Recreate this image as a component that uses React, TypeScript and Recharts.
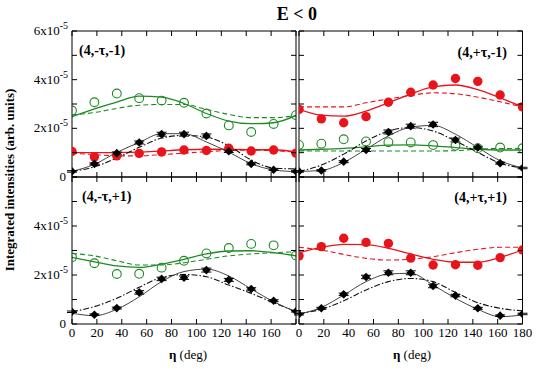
import React from 'react';
import { ComposedChart, XAxis, YAxis, Line, Scatter, ErrorBar } from 'recharts';

const W = 544;
const H = 369;
const FONT = '"Liberation Serif", "Times New Roman", Times, serif';
const RED = '#e8141c';
const GREEN = '#1f8a24';
const BLACK = '#000000';

// Scattering angle eta (deg) where data and curves are read
const ETA = [0, 18, 36, 54, 72, 90, 108, 126, 144, 162, 180];
const X_TICKS = [0, 20, 40, 60, 80, 100, 120, 140, 160, 180];
const Y_TICKS = [0, 1, 2, 3, 4, 5, 6]; // in units of 1e-5
const X_LABELS_LEFT = [0, 20, 40, 60, 80, 100, 120, 140, 160];
const X_LABELS_RIGHT = [0, 20, 40, 60, 80, 100, 120, 140, 160, 180];
const Y_LABELS_TOP = [0, 2, 4, 6];
const Y_LABELS_BOTTOM = [0, 2, 4];

// Panel (4,-τ,-1)
const A_RED = [1.05, 0.83, 0.87, 0.97, 1.03, 1.11, 1.09, 1.18, 1.07, 1.11, 0.98];
const A_RED_FIT = [1.0, 1.0, 1.0, 1.02, 1.07, 1.12, 1.14, 1.14, 1.12, 1.12, 1.03];
const A_RED_CALC = [0.98, 0.92, 0.87, 0.87, 0.92, 0.98, 1.04, 1.09, 1.1, 1.08, 1.02];
const A_GREEN = [2.73, 3.07, 3.43, 3.24, 3.14, 3.05, 2.61, 2.12, 1.85, 2.18, 2.54];
const A_GREEN_FIT = [2.48, 2.8, 3.08, 3.32, 3.28, 3.02, 2.61, 2.3, 2.19, 2.23, 2.53];
const A_GREEN_CALC = [2.55, 2.65, 2.82, 2.95, 2.98, 2.98, 2.78, 2.57, 2.44, 2.44, 2.52];
const A_BLACK = [0.23, 0.54, 0.98, 1.42, 1.76, 1.76, 1.69, 1.06, 0.54, 0.3, 0.23];
const A_BLACK_ERR = [0.03, 0.04, 0.05, 0.06, 0.08, 0.08, 0.08, 0.05, 0.04, 0.03, 0.03];
const A_BLACK_FIT = [0.23, 0.52, 1.01, 1.42, 1.78, 1.78, 1.44, 1.02, 0.55, 0.29, 0.22];
const A_BLACK_CALC = [0.23, 0.42, 0.78, 1.22, 1.6, 1.71, 1.64, 1.28, 0.7, 0.37, 0.33];

// Panel (4,+τ,-1)
const B_RED = [2.78, 2.39, 2.23, 2.48, 3.07, 3.48, 3.78, 4.05, 3.93, 3.37, 2.88];
const B_RED_FIT = [2.78, 2.54, 2.5, 2.71, 3.05, 3.41, 3.7, 3.78, 3.59, 3.25, 2.88];
const B_RED_CALC = [2.88, 2.88, 2.88, 3.05, 3.21, 3.35, 3.46, 3.42, 3.28, 3.09, 2.88];
const B_GREEN = [1.32, 1.37, 1.55, 1.46, 1.43, 1.42, 1.31, 1.28, 1.18, 1.21, 1.18];
const B_GREEN_FIT = [1.11, 1.14, 1.18, 1.24, 1.31, 1.32, 1.28, 1.21, 1.14, 1.11, 1.11];
const B_GREEN_CALC = [1.07, 1.07, 1.07, 1.07, 1.07, 1.07, 1.07, 1.08, 1.15, 1.17, 1.17];
const B_BLACK = [0.23, 0.27, 0.63, 1.11, 1.85, 2.09, 2.16, 1.52, 1.21, 0.57, 0.37];
const B_BLACK_ERR = [0.03, 0.03, 0.04, 0.06, 0.08, 0.08, 0.09, 0.08, 0.05, 0.04, 0.03];
const B_BLACK_FIT = [0.23, 0.27, 0.6, 1.14, 1.69, 2.05, 2.12, 1.76, 1.21, 0.67, 0.37];
const B_BLACK_CALC = [0.23, 0.49, 0.94, 1.48, 1.89, 2.03, 1.89, 1.48, 1.01, 0.57, 0.37];

// Panel (4,-τ,+1)
const C_GREEN = [2.72, 2.48, 2.04, 2.05, 2.3, 2.58, 2.88, 3.1, 3.27, 3.21, 2.8];
const C_GREEN_FIT = [2.72, 2.54, 2.37, 2.31, 2.44, 2.64, 2.86, 2.98, 2.99, 2.91, 2.78];
const C_GREEN_CALC = [2.88, 2.78, 2.58, 2.41, 2.41, 2.5, 2.64, 2.78, 2.86, 2.91, 2.95];
const C_BLACK = [0.5, 0.38, 0.65, 1.29, 1.84, 1.89, 2.2, 1.8, 1.43, 0.95, 0.52];
const C_BLACK_ERR = [0.03, 0.03, 0.04, 0.07, 0.07, 0.07, 0.08, 0.06, 0.05, 0.04, 0.03];
const C_BLACK_FIT = [0.44, 0.34, 0.6, 1.11, 1.73, 2.14, 2.24, 1.96, 1.43, 0.91, 0.5];
const C_BLACK_CALC = [0.5, 0.71, 1.05, 1.5, 1.9, 2.02, 1.93, 1.59, 1.25, 0.87, 0.5];

// Panel (4,+τ,+1)
const D_RED = [2.78, 3.16, 3.5, 3.33, 3.29, 2.69, 2.41, 2.42, 2.4, 2.71, 3.02];
const D_RED_FIT = [2.91, 3.13, 3.25, 3.24, 3.09, 2.86, 2.64, 2.52, 2.52, 2.72, 3.02];
const D_RED_CALC = [3.13, 3.02, 2.84, 2.68, 2.61, 2.64, 2.75, 2.91, 3.05, 3.13, 3.13];
const D_BLACK = [0.4, 0.64, 1.21, 1.92, 2.09, 2.09, 1.55, 1.16, 0.64, 0.34, 0.41];
const D_BLACK_ERR = [0.03, 0.04, 0.05, 0.07, 0.08, 0.08, 0.07, 0.05, 0.04, 0.03, 0.03];
const D_BLACK_FIT = [0.4, 0.68, 1.18, 1.73, 2.04, 2.07, 1.59, 1.05, 0.6, 0.3, 0.37];
const D_BLACK_CALC = [0.43, 0.6, 0.95, 1.39, 1.73, 1.86, 1.73, 1.29, 0.87, 0.64, 0.54];

type Kind = 'red' | 'green' | 'black';
type Series = { kind: Kind; points: number[]; err?: number[]; fit: number[]; calc: number[] };

const rows = (vals: number[], err?: number[]) =>
  ETA.map((eta, i) => ({ eta, v: vals[i], e: err ? err[i] : 0 }));

const RedDot = (p: any) => <circle cx={p.cx} cy={p.cy} r={4.7} fill={RED} />;
const GreenDot = (p: any) => (
  <circle cx={p.cx} cy={p.cy} r={4.4} fill="none" stroke={GREEN} strokeWidth={1.1} />
);
const BlackDot = (p: any) => (
  <polygon
    points={`${p.cx},${p.cy - 4.3} ${p.cx + 4.3},${p.cy} ${p.cx},${p.cy + 4.3} ${p.cx - 4.3},${p.cy}`}
    fill={BLACK}
  />
);

const BottomTick = (p: any) => {
  const { x, y, payload, labels } = p;
  const show = labels && labels.includes(payload.value);
  return (
    <g>
      <line x1={x} y1={y} x2={x} y2={y - 5} stroke="#000" strokeWidth={1} />
      {show && (
        <text x={x} y={y + 13} textAnchor="middle" fontSize={13} fontFamily={FONT} fill="#000">
          {payload.value}
        </text>
      )}
    </g>
  );
};
const TopTick = (p: any) => (
  <line x1={p.x} y1={p.y} x2={p.x} y2={p.y + 5} stroke="#000" strokeWidth={1} />
);
const LeftTick = (p: any) => {
  const { x, y, payload, labels } = p;
  const v = payload.value;
  const show = labels && labels.includes(v);
  return (
    <g>
      <line x1={x} y1={y} x2={x + 5} y2={y} stroke="#000" strokeWidth={1} />
      {show &&
        (v === 0 ? (
          <text x={x - 6} y={y + 4} textAnchor="end" fontSize={13} fontFamily={FONT} fill="#000">
            0
          </text>
        ) : (
          <text x={x - 4} y={y + 4} textAnchor="end" fontSize={13} fontFamily={FONT} fill="#000">
            {`${v}x10`}
            <tspan dy={-6} fontSize={10}>
              -5
            </tspan>
          </text>
        ))}
    </g>
  );
};
const RightTick = (p: any) => (
  <line x1={p.x} y1={p.y} x2={p.x - 5} y2={p.y} stroke="#000" strokeWidth={1} />
);

const colorOf = (k: Kind) => (k === 'red' ? RED : k === 'green' ? GREEN : BLACK);

type Box = { left: number; top: number; right: number; bottom: number };

function Panel({
  box,
  series,
  xLabels,
  yLabels,
}: {
  box: Box;
  series: Series[];
  xLabels: number[];
  yLabels: number[];
}) {
  // axes are 1px thick/wide, so margins are reduced by 1 to keep the plot box exact
  const margin = {
    top: box.top - 1,
    left: box.left - 1,
    right: W - box.right - 1,
    bottom: H - box.bottom - 1,
  };
  const lines: any[] = [];
  const dots: any[] = [];
  series.forEach((s, i) => {
    const c = colorOf(s.kind);
    lines.push(
      <Line
        key={`c${i}`}
        xAxisId="b"
        yAxisId="l"
        data={rows(s.calc)}
        dataKey="v"
        type="monotone"
        stroke={s.kind === 'black' ? '#111' : c}
        strokeWidth={1.1}
        strokeDasharray={s.kind === 'black' ? '6 2 1.5 2' : '5 3'}
        dot={false}
        activeDot={false}
        isAnimationActive={false}
      />
    );
    lines.push(
      <Line
        key={`f${i}`}
        xAxisId="b"
        yAxisId="l"
        data={rows(s.fit)}
        dataKey="v"
        type="monotone"
        stroke={s.kind === 'black' ? '#444' : c}
        strokeWidth={s.kind === 'black' ? 1 : 1.3}
        dot={false}
        activeDot={false}
        isAnimationActive={false}
      />
    );
    const shape = s.kind === 'red' ? RedDot : s.kind === 'green' ? GreenDot : BlackDot;
    dots.push(
      <Scatter
        key={`p${i}`}
        xAxisId="b"
        yAxisId="l"
        data={rows(s.points, s.err)}
        dataKey="v"
        shape={shape}
        isAnimationActive={false}
      >
        {s.err ? (
          <ErrorBar dataKey="e" direction="y" width={5} stroke={c} strokeWidth={1} />
        ) : null}
      </Scatter>
    );
  });
  const axisLine = { stroke: '#000', strokeWidth: 1 };
  return (
    <div style={{ position: 'absolute', left: 0, top: 0, width: W, height: H }}>
      <ComposedChart width={W} height={H} margin={margin}>
        <XAxis
          xAxisId="b"
          type="number"
          dataKey="eta"
          domain={[0, 180]}
          ticks={X_TICKS}
          interval={0}
          orientation="bottom"
          height={1}
          tickSize={0}
          tickMargin={0}
          tickLine={false}
          axisLine={axisLine}
          tick={(p: any) => <BottomTick {...p} labels={xLabels} />}
          allowDataOverflow
        />
        <XAxis
          xAxisId="t"
          type="number"
          dataKey="eta"
          domain={[0, 180]}
          ticks={X_TICKS}
          interval={0}
          orientation="top"
          height={1}
          tickSize={0}
          tickMargin={0}
          tickLine={false}
          axisLine={axisLine}
          tick={(p: any) => <TopTick {...p} />}
          allowDataOverflow
        />
        <YAxis
          yAxisId="l"
          type="number"
          dataKey="v"
          domain={[0, 6]}
          ticks={Y_TICKS}
          interval={0}
          orientation="left"
          width={1}
          tickSize={0}
          tickMargin={0}
          tickLine={false}
          axisLine={axisLine}
          tick={(p: any) => <LeftTick {...p} labels={yLabels} />}
          allowDataOverflow
        />
        <YAxis
          yAxisId="r"
          type="number"
          dataKey="v"
          domain={[0, 6]}
          ticks={Y_TICKS}
          interval={0}
          orientation="right"
          width={1}
          tickSize={0}
          tickMargin={0}
          tickLine={false}
          axisLine={axisLine}
          tick={(p: any) => <RightTick {...p} />}
          allowDataOverflow
        />
        {lines}
        {dots}
      </ComposedChart>
    </div>
  );
}

const PANEL_A: Series[] = [
  { kind: 'green', points: A_GREEN, fit: A_GREEN_FIT, calc: A_GREEN_CALC },
  { kind: 'red', points: A_RED, fit: A_RED_FIT, calc: A_RED_CALC },
  { kind: 'black', points: A_BLACK, err: A_BLACK_ERR, fit: A_BLACK_FIT, calc: A_BLACK_CALC },
];
const PANEL_B: Series[] = [
  { kind: 'red', points: B_RED, fit: B_RED_FIT, calc: B_RED_CALC },
  { kind: 'green', points: B_GREEN, fit: B_GREEN_FIT, calc: B_GREEN_CALC },
  { kind: 'black', points: B_BLACK, err: B_BLACK_ERR, fit: B_BLACK_FIT, calc: B_BLACK_CALC },
];
const PANEL_C: Series[] = [
  { kind: 'green', points: C_GREEN, fit: C_GREEN_FIT, calc: C_GREEN_CALC },
  { kind: 'black', points: C_BLACK, err: C_BLACK_ERR, fit: C_BLACK_FIT, calc: C_BLACK_CALC },
];
const PANEL_D: Series[] = [
  { kind: 'red', points: D_RED, fit: D_RED_FIT, calc: D_RED_CALC },
  { kind: 'black', points: D_BLACK, err: D_BLACK_ERR, fit: D_BLACK_FIT, calc: D_BLACK_CALC },
];

const BOX_A: Box = { left: 72, top: 31, right: 296, bottom: 177 };
const BOX_B: Box = { left: 299, top: 31, right: 522.5, bottom: 177 };
const BOX_C: Box = { left: 72, top: 177, right: 296, bottom: 324 };
const BOX_D: Box = { left: 299, top: 177, right: 522.5, bottom: 324 };

export default function App() {
  return (
    <div
      style={{
        position: 'absolute',
        left: 0,
        top: 0,
        width: W,
        height: H,
        background: '#fff',
        fontFamily: FONT,
      }}
    >
      <Panel box={BOX_A} series={PANEL_A} xLabels={[]} yLabels={Y_LABELS_TOP} />
      <Panel box={BOX_B} series={PANEL_B} xLabels={[]} yLabels={[]} />
      <Panel box={BOX_C} series={PANEL_C} xLabels={X_LABELS_LEFT} yLabels={Y_LABELS_BOTTOM} />
      <Panel box={BOX_D} series={PANEL_D} xLabels={X_LABELS_RIGHT} yLabels={[]} />
      <svg
        width={W}
        height={H}
        style={{ position: 'absolute', left: 0, top: 0, pointerEvents: 'none' }}
      >
        <text x={297} y={20} textAnchor="middle" fontSize={18} fontWeight="bold" fontFamily={FONT}>
          E &lt; 0
        </text>
        <text
          x={0}
          y={0}
          transform="translate(14,180) rotate(-90)"
          textAnchor="middle"
          fontSize={13}
          fontWeight="bold"
          fontFamily={FONT}
        >
          Integrated intensities (arb. units)
        </text>
        <text x={188} y={359} textAnchor="middle" fontSize={13} fontFamily={FONT}>
          <tspan fontWeight="bold">η</tspan> (deg)
        </text>
        <text x={412} y={359} textAnchor="middle" fontSize={13} fontFamily={FONT}>
          <tspan fontWeight="bold">η</tspan> (deg)
        </text>
        <text x={79} y={55} fontSize={14} fontWeight="bold" fontFamily={FONT}>
          (4,-τ,-1)
        </text>
        <text x={507} y={57} textAnchor="end" fontSize={14} fontWeight="bold" fontFamily={FONT}>
          (4,+τ,-1)
        </text>
        <text x={82} y={201} fontSize={14} fontWeight="bold" fontFamily={FONT}>
          (4,-τ,+1)
        </text>
        <text x={507} y={202} textAnchor="end" fontSize={14} fontWeight="bold" fontFamily={FONT}>
          (4,+τ,+1)
        </text>
      </svg>
    </div>
  );
}
